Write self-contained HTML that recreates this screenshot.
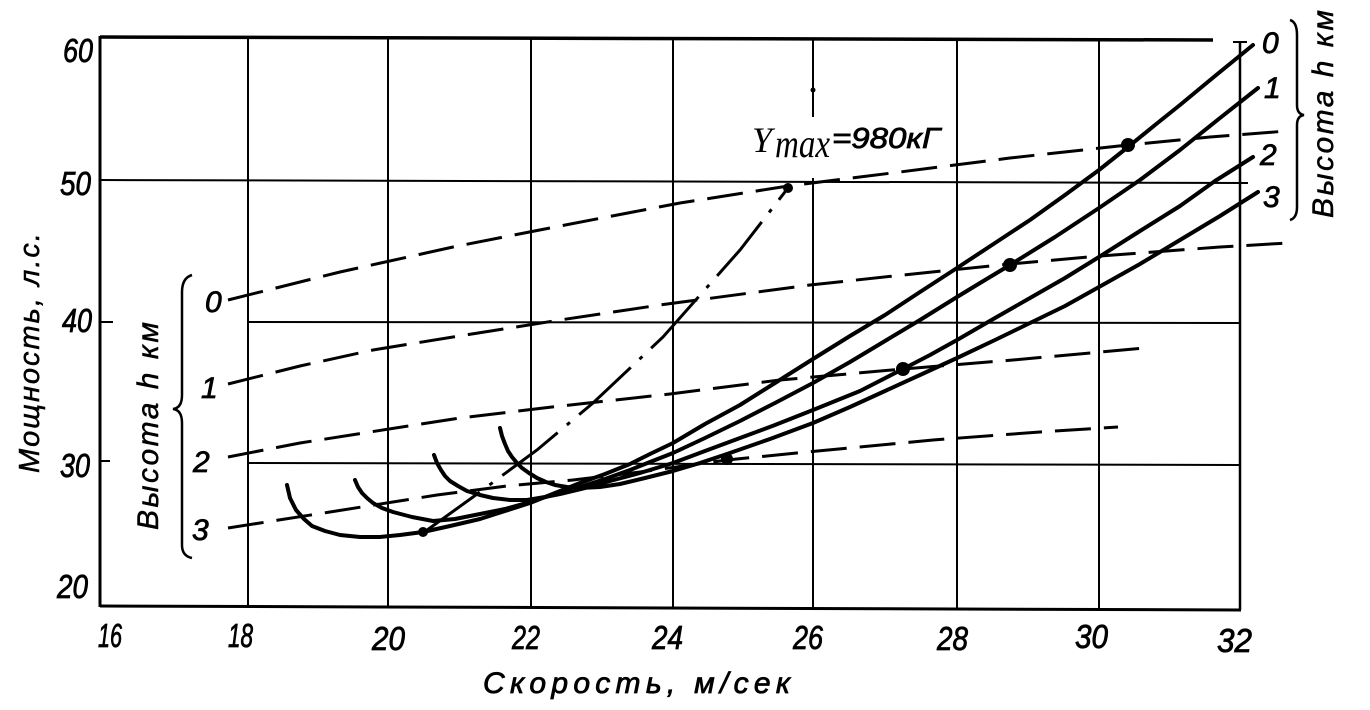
<!DOCTYPE html>
<html><head><meta charset="utf-8"><style>
html,body{margin:0;padding:0;background:#fff;}
svg{display:block;}
text{font-family:"Liberation Sans",sans-serif;font-style:italic;fill:#000;}
.serif{font-family:"Liberation Serif",serif;}
.thick{stroke:#000;stroke-width:0.8;}
</style></head><body>
<svg width="1370" height="710" viewBox="0 0 1370 710" xmlns="http://www.w3.org/2000/svg">
<g stroke="#000" fill="none" stroke-linecap="butt">
  <!-- frame -->
  <line x1="100" y1="37" x2="1213" y2="40" stroke-width="3.5"/>
  <line x1="100" y1="36" x2="100" y2="607" stroke-width="3"/>
  <line x1="100" y1="606" x2="1241" y2="610" stroke-width="3"/>
  <line x1="1240" y1="42" x2="1240" y2="610" stroke-width="2.5"/>
  <line x1="1233" y1="42" x2="1247" y2="42" stroke-width="2"/>
  <!-- vertical grid -->
  <line x1="248" y1="37" x2="248" y2="606" stroke-width="2"/>
  <line x1="388" y1="37" x2="388" y2="607" stroke-width="2"/>
  <line x1="531" y1="38" x2="531" y2="607" stroke-width="2"/>
  <line x1="673" y1="38" x2="673" y2="608" stroke-width="2"/>
  <line x1="813" y1="38" x2="813" y2="117" stroke-width="2"/>
  <line x1="813" y1="178" x2="813" y2="608" stroke-width="2"/>
  <line x1="957" y1="39" x2="957" y2="609" stroke-width="2"/>
  <line x1="1099" y1="39" x2="1099" y2="609" stroke-width="2"/>
  <!-- horizontal grid -->
  <line x1="100" y1="180" x2="1248" y2="183" stroke-width="2"/>
  <line x1="248" y1="322" x2="1240" y2="323" stroke-width="2"/>
  <line x1="100" y1="322" x2="113" y2="322" stroke-width="2"/>
  <line x1="248" y1="463" x2="1240" y2="465" stroke-width="2"/>
  <line x1="100" y1="461" x2="110" y2="461" stroke-width="2"/>

  <!-- dashed lines -->
  <g stroke-width="3" stroke-dasharray="36 13">
    <polyline points="228,300 340,272 453,247 560,226 680,203 788,186 900,172 1010,158 1128,145 1210,137 1287,131"/>
    <polyline points="228,384 300,366 373,350 453,337 560,320 660,305 810,285 903,275 1010,264 1100,256 1220,247 1288,243"/>
    <polyline points="228,457 300,443 370,432 460,418 552,407 670,394 780,380 903,369 1013,360 1145,348"/>
    <polyline points="228,528 330,512 437,495 507,486 573,480 640,472 727,460 807,452 933,440 1040,432 1118,427"/>
  </g>
  <!-- dash-dot -->
  <polyline stroke-width="3" stroke-dasharray="70 12 4 12" points="423,533 473,497 537,450 593,403 663,337 740,250 788,188"/>

  <!-- solid curves -->
  <g stroke-width="4" stroke-linejoin="round" stroke-linecap="round">
    <polyline points="287,485 290,498 296,510 304,519 312,526 325,531 340,535 360,537 380,537 400,535 423,532 450,526 480,519 505,511 530,503 555,493 580,483 605,474 630,464 650,454 673,443 705,424 740,405 775,383 813,359 850,336 885,315 920,292 957,268 995,243 1030,220 1065,195 1099,170 1128,147 1155,125 1180,105 1215,76 1253,45"/>
    <polyline points="355,480 358,487 362,493 367,498 373,503 382,508 393,512 412,517 433,521 455,519 480,514 505,509 530,502 555,494 580,487 605,479 630,470 650,462 673,453 705,438 740,421 775,403 813,383 850,362 885,341 920,320 957,297 985,280 1010,265 1055,237 1099,208 1140,180 1180,150 1220,118 1258,88"/>
    <polyline points="434,455 437,463 441,470 445,476 450,481 458,486 467,491 480,495 493,498 510,500 527,500 545,497 560,494 585,488 610,481 640,473 673,463 705,451 740,438 775,425 813,410 860,391 903,369 930,355 957,340 995,318 1030,298 1065,278 1099,257 1140,231 1180,206 1215,181 1253,157"/>
    <polyline points="500,428 502,436 505,444 508,451 512,457 517,463 522,468 529,473 537,478 546,482 555,485 567,487 580,488 600,487 620,484 645,478 673,471 700,463 727,454 770,439 813,423 850,407 885,391 920,375 957,358 995,340 1030,323 1065,306 1099,287 1140,264 1180,240 1220,216 1258,192"/>
  </g>

  <!-- braces -->
  <path stroke-width="2.5" d="M192,275 Q182,278 182,292 L182,395 Q182,408 173,409 Q182,410 182,423 L182,545 Q182,556 192,558"/>
  <path stroke-width="2.5" d="M1290,20 Q1297,22 1297,35 L1297,105 Q1297,114 1304,115 Q1297,116 1297,125 L1297,207 Q1297,218 1290,220"/>
</g>

<!-- dots -->
<g fill="#000">
  <circle cx="1128" cy="145" r="7"/>
  <circle cx="1010" cy="265" r="7"/>
  <circle cx="903" cy="369" r="7"/>
  <circle cx="727" cy="459" r="6"/>
  <circle cx="788" cy="188" r="5"/>
  <circle cx="423" cy="532" r="5"/>
  <circle cx="813" cy="90" r="2.5"/>
</g>

<!-- y tick labels -->
<g font-size="33" class="thick">
  <text x="63" y="62" textLength="30" lengthAdjust="spacingAndGlyphs">60</text>
  <text x="60" y="195" textLength="31" lengthAdjust="spacingAndGlyphs">50</text>
  <text x="62" y="332" textLength="30" lengthAdjust="spacingAndGlyphs">40</text>
  <text x="60" y="477" textLength="30" lengthAdjust="spacingAndGlyphs">30</text>
  <text x="57" y="598" textLength="31" lengthAdjust="spacingAndGlyphs">20</text>
  <!-- x tick labels -->
  <text x="98" y="647" textLength="24" lengthAdjust="spacingAndGlyphs">16</text>
  <text x="228" y="647" textLength="25" lengthAdjust="spacingAndGlyphs">18</text>
  <text x="372" y="650" textLength="33" lengthAdjust="spacingAndGlyphs">20</text>
  <text x="512" y="649" textLength="28" lengthAdjust="spacingAndGlyphs">22</text>
  <text x="652" y="649" textLength="31" lengthAdjust="spacingAndGlyphs">24</text>
  <text x="793" y="649" textLength="30" lengthAdjust="spacingAndGlyphs">26</text>
  <text x="937" y="650" textLength="31" lengthAdjust="spacingAndGlyphs">28</text>
  <text x="1075" y="648" textLength="33" lengthAdjust="spacingAndGlyphs">30</text>
  <text x="1217" y="652" textLength="35" lengthAdjust="spacingAndGlyphs">32</text>
</g>

<!-- curve labels -->
<g font-size="30" class="thick">
  <text x="1262" y="53">0</text>
  <text x="1264" y="98">1</text>
  <text x="1260" y="165">2</text>
  <text x="1263" y="207">3</text>
  <text x="205" y="312">0</text>
  <text x="201" y="398">1</text>
  <text x="193" y="472">2</text>
  <text x="192" y="540">3</text>
</g>

<!-- Ymax label -->
<text class="serif" x="752" y="152" font-size="36">Y</text>
<text class="serif" x="775" y="157" font-size="40" textLength="55" lengthAdjust="spacingAndGlyphs">max</text>
<text x="832" y="148" font-size="29" textLength="108" lengthAdjust="spacingAndGlyphs" class="thick">=980кГ</text>

<!-- axis titles -->
<text x="483" y="693" font-size="30" textLength="307" lengthAdjust="spacing" class="thick">Скорость, м/сек</text>
<text transform="translate(39,473) rotate(-90)" font-size="29" textLength="240" lengthAdjust="spacing" style="stroke:#000;stroke-width:0.5">Мощность, л.с.</text>
<text transform="translate(158,530) rotate(-90)" font-size="30" textLength="208" lengthAdjust="spacing" style="stroke:#000;stroke-width:0.5">Высота h км</text>
<text transform="translate(1333,218) rotate(-90)" font-size="30" textLength="208" lengthAdjust="spacing" style="stroke:#000;stroke-width:0.5">Высота h км</text>
</svg>
</body></html>
